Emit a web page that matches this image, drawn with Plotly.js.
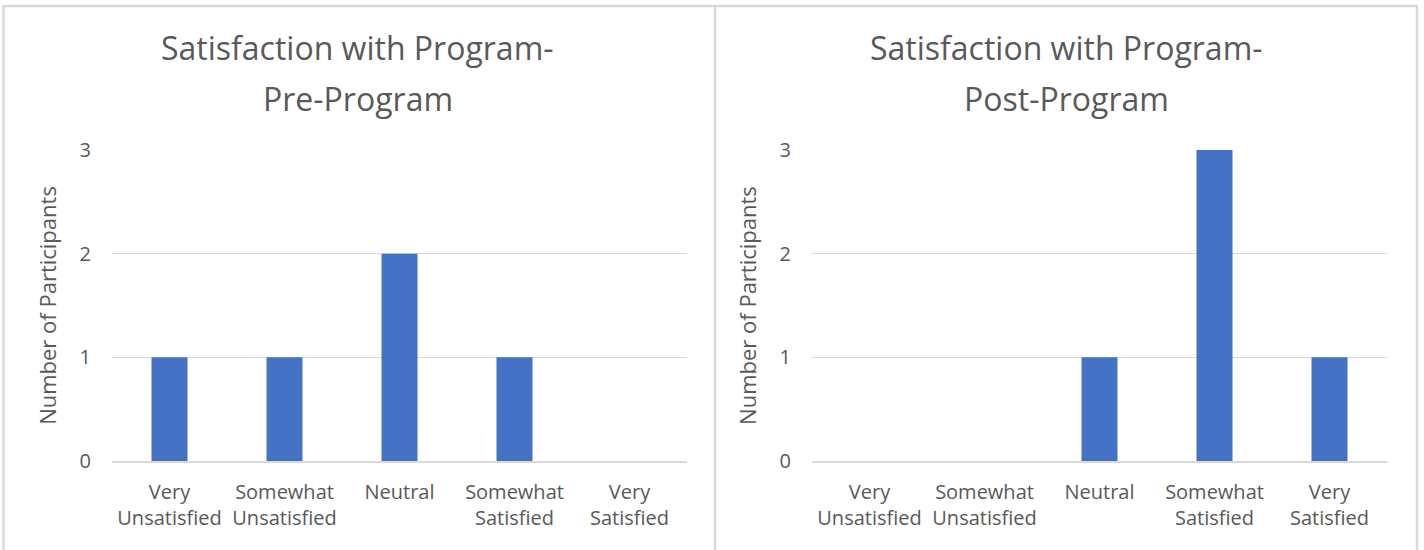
<!DOCTYPE html>
<html>
<head>
<meta charset="utf-8">
<script src="https://cdn.plot.ly/plotly-2.35.2.min.js"></script>
<style>html,body{margin:0;padding:0;background:#fff}#chart{width:1424px;height:550px}</style>
</head>
<body>
<div id="chart"></div>
<script>
const categories = ["Very<br>Unsatisfied", "Somewhat<br>Unsatisfied", "Neutral", "Somewhat<br>Satisfied", "Very<br>Satisfied"];
const preValues = [1, 1, 2, 1, 0];
const postValues = [0, 0, 1, 3, 1];
const yTicks = [0, 1, 2, 3];
const preTitle = ["Satisfaction with Program-", "Pre-Program"];
const postTitle = ["Satisfaction with Program-", "Post-Program"];
const yTitle = "Number of Participants";

const W = 1424, H = 550;
const px = v => v / W, py = v => 1 - v / H;
const font = "Open Sans, Noto Sans, sans-serif";
const grey = "#595959", grid = "#d9d9d9", blue = "#4472c4";

const traces = [
  {type: "bar", x: categories, y: preValues, xaxis: "x", yaxis: "y", marker: {color: blue}, hoverinfo: "x+y"},
  {type: "bar", x: categories, y: postValues, xaxis: "x2", yaxis: "y2", marker: {color: blue}, hoverinfo: "x+y"}
];

function xa(d0, d1, anchor) {
  return {domain: [px(d0), px(d1)], anchor: anchor, type: "category", categoryarray: categories,
    showgrid: false, showline: true, linecolor: grid, linewidth: 1.5, ticks: "", zeroline: false,
    tickfont: {family: font, size: 20, color: grey}, ticklabelstandoff: 12, fixedrange: true};
}
function ya(anchor) {
  return {domain: [py(461), py(150)], anchor: anchor, range: [0, 3], tickvals: yTicks,
    showgrid: true, gridcolor: grid, gridwidth: 1.5, zeroline: false, showline: false,
    tickfont: {family: font, size: 20, color: grey}, ticklabelstandoff: 20,
    title: {text: yTitle, font: {family: font, size: 22, color: grey}, standoff: 16}, fixedrange: true};
}

const ann = [];
function titleLines(lines, cx) {
  ann.push({text: lines[0], xref: "paper", yref: "paper", x: px(cx), y: py(47), xanchor: "center", yanchor: "middle", showarrow: false, font: {family: font, size: 32, color: grey}});
  ann.push({text: lines[1], xref: "paper", yref: "paper", x: px(cx), y: py(98), xanchor: "center", yanchor: "middle", showarrow: false, font: {family: font, size: 32, color: grey}});
}
titleLines(preTitle, 358);
titleLines(postTitle, 1066);

const shapes = [
  {type: "line", xref: "paper", yref: "paper", x0: px(3), x1: px(1418), y0: py(6), y1: py(6), line: {color: grid, width: 2.5}},
  {type: "line", xref: "paper", yref: "paper", x0: px(3.5), x1: px(3.5), y0: py(5), y1: py(551), line: {color: grid, width: 2.5}},
  {type: "line", xref: "paper", yref: "paper", x0: px(715), x1: px(715), y0: py(5), y1: py(551), line: {color: grid, width: 2.5}},
  {type: "line", xref: "paper", yref: "paper", x0: px(1417), x1: px(1417), y0: py(5), y1: py(551), line: {color: grid, width: 2.5}}
];

const layout = {
  width: W, height: H, margin: {l: 0, r: 0, t: 0, b: 0},
  paper_bgcolor: "#fff", plot_bgcolor: "#fff", showlegend: false, bargap: 0.687,
  xaxis: xa(112, 687, "y"), yaxis: ya("x"),
  xaxis2: xa(812, 1387, "y2"), yaxis2: ya("x2"),
  annotations: ann, shapes: shapes
};
Plotly.newPlot("chart", traces, layout, {displayModeBar: false, staticPlot: true});
</script>
</body>
</html>
